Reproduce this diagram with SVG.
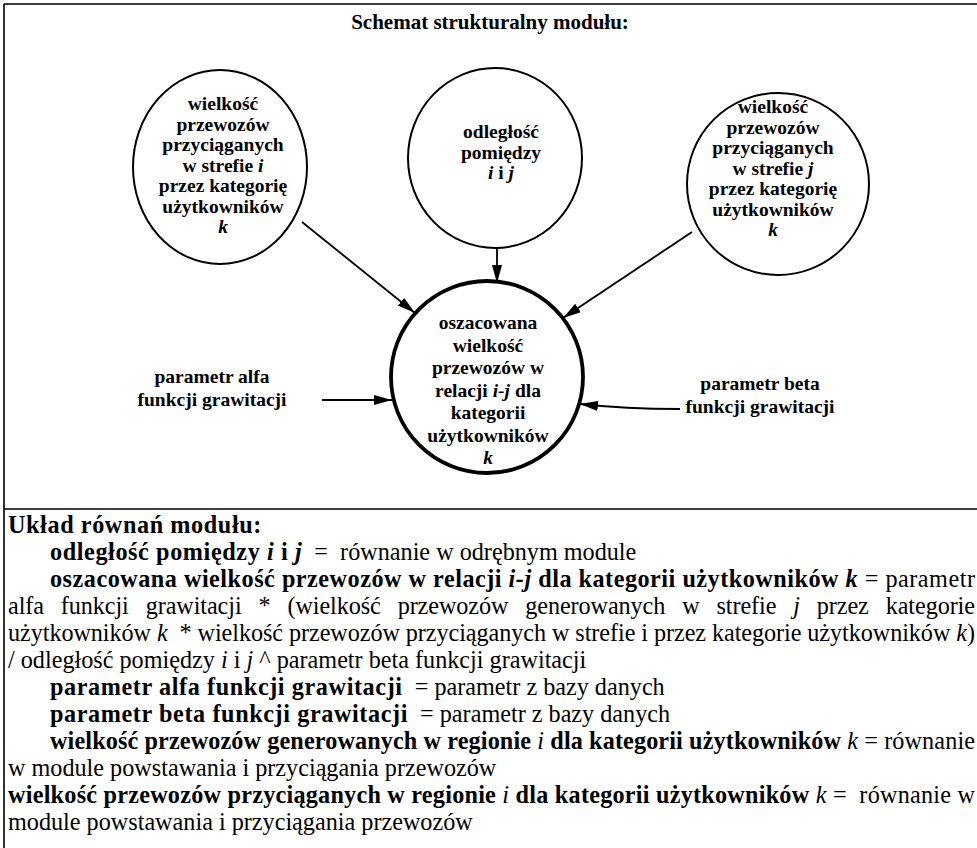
<svg xmlns="http://www.w3.org/2000/svg" width="977" height="848" viewBox="0 0 977 848">
<style>
text{font-family:"Liberation Serif","Times New Roman",serif;fill:#000;white-space:pre}
.c{font-size:19.5px;font-weight:bold;text-anchor:middle}
.cc{font-size:19.5px;font-weight:bold;text-anchor:middle}
.t{font-size:21px;font-weight:bold;text-anchor:middle}
.s{font-size:24.2px}
.b{font-weight:bold}
.bs{font-weight:bold;letter-spacing:0.6px}
.i{font-style:italic}
.node{fill:#fff;stroke:#000;stroke-width:2}
.main{fill:#fff;stroke:#000;stroke-width:3.8}
.con{fill:none;stroke:#000;stroke-width:1.8}
.frame{stroke:#000;stroke-width:1.6;fill:none}
</style>
<defs>
<marker id="ah" markerUnits="userSpaceOnUse" markerWidth="20" markerHeight="11" refX="18" refY="5" orient="auto">
<path d="M0,0 L18,5 L0,10 Z" fill="#000"/>
</marker>
</defs>
<rect x="0" y="0" width="977" height="848" fill="#fff"/>
<g id="frame">
<path class="frame" d="M4,4 H977 M4,4 V848"/>
<path class="frame" stroke-width="2.2" d="M4,509 H977"/>
</g>
<text class="t" x="490" y="29">Schemat strukturalny modułu:</text>
<g id="connectors">
<path class="con" d="M302,222 L415,313" marker-end="url(#ah)"/>
<path class="con" d="M497,248 L497,283" marker-end="url(#ah)"/>
<path class="con" d="M692,232 L563,318" marker-end="url(#ah)"/>
<path class="con" d="M322,400 L392,400" marker-end="url(#ah)"/>
<path class="con" d="M680,409 Q625,409 580,404" marker-end="url(#ah)"/>
</g>
<g id="node-attr-i">
<ellipse class="node" cx="220" cy="167" rx="87" ry="97"/>
<text class="c" x="223" y="110">wielkość</text>
<text class="c" x="223" y="130.5">przewozów</text>
<text class="c" x="223" y="151">przyciąganych</text>
<text class="c" x="223" y="171.5">w strefie <tspan class="i">i</tspan></text>
<text class="c" x="223" y="192">przez kategorię</text>
<text class="c" x="223" y="212.5">użytkowników</text>
<text class="c" x="223" y="233"><tspan class="i">k</tspan></text>
</g>
<g id="node-dist">
<ellipse class="node" cx="495" cy="158" rx="87" ry="90"/>
<text class="c" x="501" y="138">odległość</text>
<text class="c" x="501" y="158.5">pomiędzy</text>
<text class="c" x="501" y="179"><tspan class="i">i</tspan> i <tspan class="i">j</tspan></text>
</g>
<g id="node-attr-j">
<ellipse class="node" cx="778" cy="184" rx="91" ry="91"/>
<text class="c" x="773" y="113">wielkość</text>
<text class="c" x="773" y="133.5">przewozów</text>
<text class="c" x="773" y="154">przyciąganych</text>
<text class="c" x="773" y="174.5">w strefie <tspan class="i">j</tspan></text>
<text class="c" x="773" y="195">przez kategorię</text>
<text class="c" x="773" y="215.5">użytkowników</text>
<text class="c" x="773" y="236"><tspan class="i">k</tspan></text>
</g>
<g id="node-result">
<circle class="main" cx="487" cy="377" r="96"/>
<text class="cc" x="488" y="329">oszacowana</text>
<text class="cc" x="488" y="351.5">wielkość</text>
<text class="cc" x="488" y="374">przewozów w</text>
<text class="cc" x="488" y="396.5">relacji <tspan class="i">i-j</tspan> dla</text>
<text class="cc" x="488" y="419">kategorii</text>
<text class="cc" x="488" y="441.5">użytkowników</text>
<text class="cc" x="488" y="464"><tspan class="i">k</tspan></text>
</g>
<g id="node-alfa">
<text class="c" x="212" y="383">parametr alfa</text>
<text class="c" x="212" y="406">funkcji grawitacji</text>
</g>
<g id="node-beta">
<text class="c" x="760" y="390">parametr beta</text>
<text class="c" x="760" y="413">funkcji grawitacji</text>
</g>
<g id="equations" class="s">
<text x="8" y="533" class="s bs">Układ równań modułu:</text>
<text x="50" y="560" class="s"><tspan class="bs">odległość pomiędzy </tspan><tspan class="bs i">i</tspan><tspan class="bs"> i </tspan><tspan class="bs i">j</tspan>  =  równanie w odrębnym module</text>
<text x="50" y="587" class="s" textLength="925" lengthAdjust="spacing"><tspan class="b">oszacowana wielkość przewozów w relacji </tspan><tspan class="b i">i-j</tspan><tspan class="b"> dla kategorii użytkowników </tspan><tspan class="b i">k</tspan> = parametr</text>
<text x="8" y="614" class="s" word-spacing="11" textLength="967" lengthAdjust="spacing">alfa funkcji grawitacji * (wielkość przewozów generowanych w strefie <tspan class="i">j</tspan> przez kategorie</text>
<text x="8" y="641" class="s" textLength="967" lengthAdjust="spacing">użytkowników <tspan class="i">k</tspan>  * wielkość przewozów przyciąganych w strefie i przez kategorie użytkowników <tspan class="i">k</tspan>)</text>
<text x="8" y="668" class="s">/ odległość pomiędzy <tspan class="i">i</tspan> i <tspan class="i">j</tspan> ^ parametr beta funkcji grawitacji</text>
<text x="50" y="695" class="s"><tspan class="bs">parametr alfa funkcji grawitacji</tspan>  = parametr z bazy danych</text>
<text x="50" y="722" class="s"><tspan class="bs">parametr beta funkcji grawitacji</tspan>  = parametr z bazy danych</text>
<text x="50" y="749" class="s" textLength="925" lengthAdjust="spacing"><tspan class="b">wielkość przewozów generowanych w regionie </tspan><tspan class="i">i</tspan><tspan class="b"> dla kategorii użytkowników </tspan><tspan class="i">k</tspan> = równanie</text>
<text x="8" y="776" class="s">w module powstawania i przyciągania przewozów</text>
<text x="8" y="803" class="s" textLength="967" lengthAdjust="spacing"><tspan class="b">wielkość przewozów przyciąganych w regionie </tspan><tspan class="i">i</tspan><tspan class="b"> dla kategorii użytkowników </tspan><tspan class="i">k</tspan> =  równanie w</text>
<text x="8" y="830" class="s">module powstawania i przyciągania przewozów</text>
</g>
</svg>
